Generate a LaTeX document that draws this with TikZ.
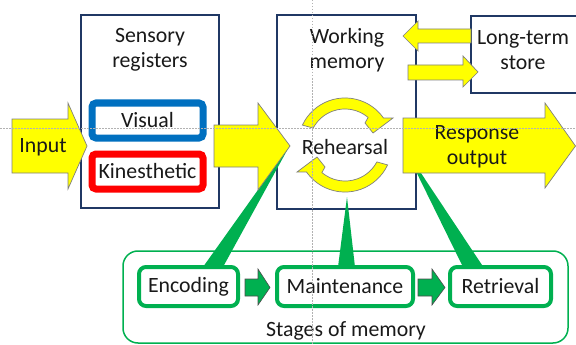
\documentclass[tikz,border=0pt]{standalone}
\usepackage{fontspec}
\setmainfont{Carlito}
\definecolor{navy}{HTML}{203864}
\definecolor{vblue}{HTML}{0070C0}
\definecolor{kred}{HTML}{FF0000}
\definecolor{sgreen}{HTML}{00B050}
\definecolor{yel}{HTML}{FFFF00}
\definecolor{yelline}{HTML}{7F7F7F}
\begin{document}
\begin{tikzpicture}[x=1pt,y=-1pt,
  txt/.style={font=\fontsize{21.8}{25}\selectfont, align=center, inner sep=0pt, text=black!90},
  navybox/.style={draw=navy, line width=1.8pt, fill=white, inner sep=0pt},
  regbox/.style={line width=7pt, rounded corners=4pt, fill=white, minimum width=111pt, minimum height=35pt, inner sep=0pt, text=black!90, font=\fontsize{21.8}{25}\selectfont},
  stagebox/.style={draw=sgreen, line width=4pt, rounded corners=7pt, fill=white, minimum height=39pt, inner sep=0pt, text=black!90, font=\fontsize{21.8}{25}\selectfont},
  yarrow/.style={fill=yel, draw=yelline, line width=0.7pt, line join=miter},
  garrow/.style={fill=sgreen, draw=black!70, line width=0.6pt},
  wedge/.style={fill=sgreen},
  guide/.style={draw=black!30, line width=0.5pt, dash pattern=on 1.5pt off 1.5pt}]
\useasboundingbox (0,0) rectangle (576,345);
\clip (0,0) rectangle (576,345);

% main boxes
\node[navybox, minimum width=138pt, minimum height=193pt] (sens) at (150,111.5) {};
\node[navybox, minimum width=139pt, minimum height=194pt] (wm) at (346.5,112) {};
\node[navybox, minimum width=130pt, minimum height=77pt, anchor=north west] (lts) at (470,15) {};

\node[txt] (senst) at (150,50) {Sensory\\registers};
\node[txt] (wmt) at (347,50) {Working\\memory};
\node[txt] (ltst) at (523,50) {Long-term\\store};

% registers
\node[regbox, draw=vblue] (vis) at (147.5,120.5) {Visual};
\node[regbox, draw=kred] (kin) at (147.5,171.5) {Kinesthetic};

% stages
\node[draw=sgreen, line width=1.5pt, rounded corners=15pt, minimum width=445pt, minimum height=92pt] (stages) at (345.5,297) {};
\node[stagebox, minimum width=99pt] (enc) at (188.5,286.5) {Encoding};
\node[stagebox, minimum width=136pt] (maint) at (345,286.5) {Maintenance};
\node[stagebox, minimum width=101pt] (retr) at (500.5,286.5) {Retrieval};
\node[txt] (stt) at (346,331) {Stages of memory};

\draw[garrow] (245,279) -- (258,279) -- (258,269) -- (270,287.5) -- (258,305) -- (258,296) -- (245,296) -- cycle;
\draw[garrow] (418,279) -- (432,279) -- (432,269) -- (445,287.5) -- (432,305) -- (432,296) -- (418,296) -- cycle;

% callout wedges
\fill[wedge] (203,267) -- (290,145) -- (223,267) -- cycle;
\fill[wedge] (338,267) -- (347,197) -- (355,267) -- cycle;
\fill[wedge] (462,265) -- (405,149) -- (482,265) -- cycle;

% yellow block arrows
\draw[yarrow] (12,119) -- (68,119) -- (68,103) -- (87,146) -- (68,189) -- (68,173) -- (12,173) -- cycle;
\node[txt] (inp) at (43,147) {Input};
\draw[yarrow] (214,125) -- (258,125) -- (258,103) -- (290,146) -- (258,190) -- (258,167) -- (214,167) -- cycle;
\draw[yarrow] (403,118) -- (545,118) -- (545,103) -- (575.5,146) -- (545,188) -- (545,173) -- (403,173) -- cycle;
\node[txt] (resp) at (477,147) {Response\\output};
\draw[yarrow] (471,29) -- (418,29) -- (418,21) -- (403,36) -- (418,51) -- (418,43) -- (471,43) -- cycle;
\draw[yarrow] (408,65) -- (463,65) -- (463,56) -- (478,72) -- (463,87) -- (463,80) -- (408,80) -- cycle;

% rehearsal loop
\draw[yarrow] (302.4,125.1) arc[start angle=-155, end angle=-35, radius=47] -- (393,118) -- (373,133) -- (365,123) -- (368.1,117.4) arc[start angle=-50, end angle=-152, radius=36] -- cycle;
\draw[yarrow] (387.6,164.9) arc[start angle=25, end angle=145, radius=47] -- (297,172) -- (317,157) -- (325,167) -- (321.9,172.6) arc[start angle=130, end angle=28, radius=36] -- cycle;
\node[txt] (reh) at (345,147) {Rehearsal};

% guides
\draw[guide] (0,128) -- (576,128);
\draw[guide] (312,0) -- (312,345);
\end{tikzpicture}
\end{document}
